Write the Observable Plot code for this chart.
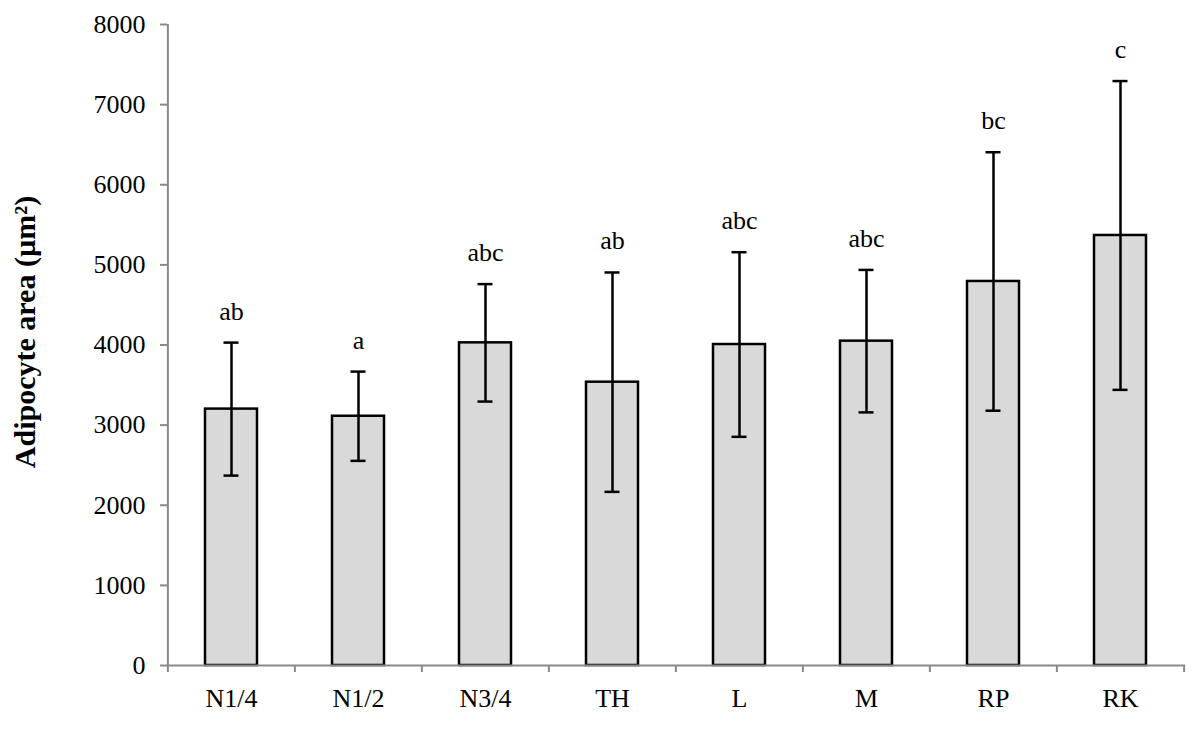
<!DOCTYPE html>
<html>
<head>
<meta charset="utf-8">
<script src="https://cdn.jsdelivr.net/npm/d3@7"></script>
<script src="https://cdn.jsdelivr.net/npm/@observablehq/plot@0.6"></script>
<style>
  html, body { margin: 0; padding: 0; background: #fff; }
  #chart { width: 1200px; height: 732px; }
</style>
</head>
<body>
<div id="chart"></div>
<script>
// ---- data ----
const categories = ["N1/4", "N1/2", "N3/4", "TH", "L", "M", "RP", "RK"];
const means = [3200, 3111, 4027, 3536, 4006, 4048, 4793, 5367];
const errors = [830, 557, 733, 1369, 1152, 889, 1613, 1927];
const letters = ["ab", "a", "abc", "ab", "abc", "abc", "bc", "c"];
const yTicks = [0, 1000, 2000, 3000, 4000, 5000, 6000, 7000, 8000];
const yLabel = "Adipocyte area (µm²)";

const data = categories.map((c, i) => ({
  cat: c, mean: means[i], lo: means[i] - errors[i], hi: means[i] + errors[i], letter: letters[i]
}));

const W = 1200, H = 732;
const mL = 167, mR = 15, mT = 24, mB = 67;
const step = (W - mL - mR) / categories.length;
const axisGray = "#898989";
const font = "'Liberation Serif', 'Times New Roman', serif";

const chart = Plot.plot({
  width: W,
  height: H,
  marginLeft: mL,
  marginRight: mR,
  marginTop: mT,
  marginBottom: mB,
  style: { fontFamily: font, fontSize: "26px", background: "#fff", color: "#000" },
  x: { domain: categories, paddingInner: 0.59, paddingOuter: 0.295, label: null },
  y: { domain: [0, 8000], label: null },
  marks: [
    Plot.barY(data, { x: "cat", y: "mean", fill: "#d9d9d9", stroke: "#000", strokeWidth: 2.5 }),
    Plot.ruleX(data, { x: "cat", y1: "lo", y2: "hi", stroke: "#000", strokeWidth: 2.5 }),
    Plot.tickY(data, { x: "cat", y: "hi", stroke: "#000", strokeWidth: 2.5, insetLeft: 18.5, insetRight: 18.5 }),
    Plot.tickY(data, { x: "cat", y: "lo", stroke: "#000", strokeWidth: 2.5, insetLeft: 18.5, insetRight: 18.5 }),
    Plot.text(data, { x: "cat", y: "hi", text: "letter", lineAnchor: "bottom", dy: -23, fill: "#000" }),
    // axis lines
    Plot.ruleY([0], { stroke: axisGray, strokeWidth: 2 }),
    Plot.ruleX([categories[0]], { x: d => d, y1: 0, y2: 8000, dx: -step / 2, stroke: axisGray, strokeWidth: 2 }),
    // category boundary ticks
    Plot.ruleX(categories, { x: d => d, y1: 0, y2: 0, insetBottom: -7, dx: -step / 2, stroke: axisGray, strokeWidth: 2 }),
    Plot.ruleX([categories[categories.length - 1]], { x: d => d, y1: 0, y2: 0, insetBottom: -7, dx: step / 2, stroke: axisGray, strokeWidth: 2 }),
    Plot.axisY({ ticks: yTicks, tickSize: 7, tickPadding: 15, stroke: axisGray, strokeWidth: 2, fill: "#000", label: null, tickFormat: d => String(d) }),
    Plot.axisX({ tickSize: 0, tickPadding: 23, fill: "#000", label: null }),
    Plot.text([yLabel], { frameAnchor: "left", text: d => d, rotate: -90, textAnchor: "middle", lineAnchor: "middle", dx: -142, dy: -13, fontSize: 30, fontWeight: "bold", fill: "#000" })
  ]
});

document.getElementById("chart").appendChild(chart);
</script>
</body>
</html>
